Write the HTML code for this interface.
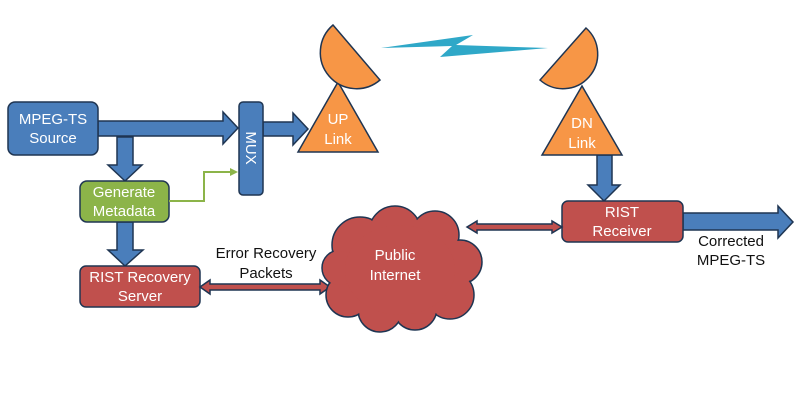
<!DOCTYPE html>
<html><head><style>
html,body{margin:0;padding:0;background:#fff;}
svg{display:block;}
text{font-family:"Liberation Sans",sans-serif;font-size:15px;}
</style></head><body>
<svg width="800" height="414" viewBox="0 0 800 414" xmlns="http://www.w3.org/2000/svg">
<g stroke="#1f3552" stroke-width="1.5" stroke-linejoin="miter">
<polygon points="98,121 223,121 223,112 238,128 223,144 223,136 98,136" fill="#4a7ebb"/>
<polygon points="263,122 293,122 293,113 308,129 293,145 293,136 263,136" fill="#4a7ebb"/>
<polygon points="117,137 133,137 133,165 142,165 125,181 108,165 117,165" fill="#4a7ebb"/>
<polygon points="117,222 133,222 133,250 143,250 125,266 108,250 117,250" fill="#4a7ebb"/>
<polygon points="597,155 612,155 612,185 620,185 604,201 588,185 597,185" fill="#4a7ebb"/>
<polygon points="683,213 778,213 778,206 793,222 778,238 778,230 683,230" fill="#4a7ebb"/>
<rect x="8" y="102" width="90" height="53" rx="7" fill="#4a7ebb"/>
<rect x="239" y="102" width="24" height="93" rx="4" fill="#4a7ebb"/>
<rect x="80" y="181" width="89" height="41" rx="7" fill="#8cb449"/>
<rect x="80" y="266" width="120" height="41" rx="6" fill="#c0504d"/>
<rect x="562" y="201" width="121" height="41" rx="6" fill="#c0504d"/>
<polygon points="200,287 210,280 210,284 320,284 320,280 330,287 320,294 320,290 210,290 210,294" fill="#c0504d"/>
<polygon points="467,227 477,221 477,224 552,224 552,221 562,227 552,233 552,230 477,230 477,233" fill="#c0504d"/>
<polygon points="298,152 338,82 378,152" fill="#f79646"/>
<path d="M333,25 L380,80 A10,10 0 0 1 333,25 Z" fill="#f79646"/>
<polygon points="542,155 582,86 622,155" fill="#f79646"/>
<path d="M586,28 L540,80 A10,10 0 0 0 586,28 Z" fill="#f79646"/>
</g>
<polyline points="169,201 204,201 204,172 232,172" fill="none" stroke="#8cb449" stroke-width="2"/>
<polygon points="238,172 230,168 230,176" fill="#8cb449"/>
<polygon points="381,48 473,35 456,45 548,48 440,57 452,46" fill="#2fa8c8"/>
<g fill="#c0504d" stroke="#1f3552" stroke-width="1.5">
<circle cx="360" cy="245" r="28"/><circle cx="395" cy="232" r="26"/><circle cx="435" cy="235" r="24"/>
<circle cx="460" cy="262" r="22"/><circle cx="450" cy="295" r="24"/><circle cx="415" cy="308" r="22"/>
<circle cx="380" cy="310" r="22"/><circle cx="348" cy="295" r="22"/><circle cx="340" cy="268" r="18"/>
</g>
<g fill="#c0504d">
<circle cx="360" cy="245" r="27"/><circle cx="395" cy="232" r="25"/><circle cx="435" cy="235" r="23"/>
<circle cx="460" cy="262" r="21"/><circle cx="450" cy="295" r="23"/><circle cx="415" cy="308" r="21"/>
<circle cx="380" cy="310" r="21"/><circle cx="348" cy="295" r="21"/><circle cx="340" cy="268" r="17"/>
<ellipse cx="400" cy="270" rx="55" ry="45"/>
</g>
<g fill="#fff" text-anchor="middle">
<text x="53" y="124">MPEG-TS</text><text x="53" y="143">Source</text>
<text x="124" y="197">Generate</text><text x="124" y="216">Metadata</text>
<text x="140" y="282">RIST Recovery</text><text x="140" y="301">Server</text>
<text x="622" y="217">RIST</text><text x="622" y="236">Receiver</text>
<text x="338" y="124">UP</text><text x="338" y="144">Link</text>
<text x="582" y="128">DN</text><text x="582" y="148">Link</text>
<text x="395" y="260">Public</text><text x="395" y="280">Internet</text>
<text transform="translate(246,148) rotate(90)" text-anchor="middle">MUX</text>
</g>
<g fill="#111" text-anchor="middle">
<text x="266" y="258">Error Recovery</text><text x="266" y="278">Packets</text>
<text x="731" y="246">Corrected</text><text x="731" y="265">MPEG-TS</text>
</g>
</svg>
</body></html>
